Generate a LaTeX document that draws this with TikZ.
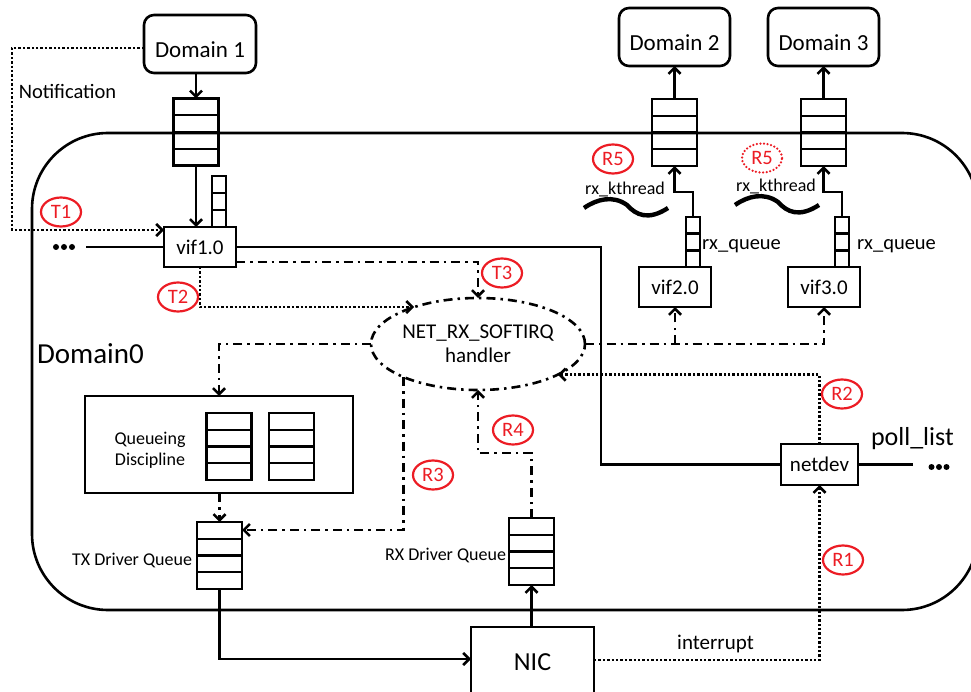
\documentclass[tikz,border=0pt]{standalone}
\usepackage{fontspec}
\setmainfont{Carlito}
\usetikzlibrary{arrows.meta,shapes.geometric,calc}
\definecolor{tagred}{RGB}{236,28,36}

\tikzset{
  f18/.style={font=\fontsize{18}{21}\selectfont},
  f20/.style={font=\fontsize{20.5}{24}\selectfont},
  f21/.style={font=\fontsize{21}{24}\selectfont},
  f23/.style={font=\fontsize{23}{27}\selectfont},
  f26/.style={font=\fontsize{26}{30}\selectfont},
  f29/.style={font=\fontsize{29}{34}\selectfont},
  stroke/.style={line width=2.6pt},
  boxs/.style={draw, rectangle, stroke, f21},
  dom/.style={boxs, rounded corners=10pt, minimum width=112pt, minimum height=58pt,
    f23, text height=27pt, text depth=0pt},
  vif/.style={boxs, minimum width=72pt, minimum height=40pt},
  % a queue: a box split into #1 equal cells
  cells/.style={path picture={
    \foreach \k in {1,...,#1}{
      \pgfmathsetmacro\f{\k/#1}
      \draw[line width=2.4pt] ($(path picture bounding box.north west)!\f!(path picture bounding box.south west)$)
         -- ($(path picture bounding box.north east)!\f!(path picture bounding box.south east)$);
    }}},
  queue/.style={draw, stroke, rectangle, minimum width=45pt, minimum height=67pt, cells=#1},
  queue/.default=4,
  smallq/.style={queue=3, minimum width=14pt, minimum height=50pt},
  redtag/.style={ellipse, draw=tagred, text=tagred, line width=2.2pt,
    minimum width=40pt, minimum height=29pt, f20},
  arrowed/.style={-{Straight Barb[length=6pt,width=12pt]}},
  dotline/.style={stroke, dash pattern=on 2.4pt off 2pt},
  dashdot/.style={stroke, dash pattern=on 9pt off 5pt on 2.5pt off 5pt},
  wave/.pic={\draw[line width=4.4pt] (0,0) .. controls (13,-9) and (29,-13) .. (43,-3)
     .. controls (52,7) and (64,13) .. (84,0);}
}

\begin{document}
\begin{tikzpicture}[x=1pt, y=-1pt, line width=2.6pt,
  every node/.style={inner sep=0pt, outer sep=0pt}]
\useasboundingbox (0,0) rectangle (971,692);
\clip (0,0) rectangle (971,692);

% Domain0 container
\node[draw, stroke, rounded corners=76pt, minimum width=946pt, minimum height=477pt] (dom0) at (505,371.5) {};
\node[f29, anchor=base west] (dom0label) at (37,363) {Domain0};

% guest domains
\node[dom] (dom1) at (200,44) {Domain 1};
\node[dom, minimum width=111pt] (dom2) at (674.5,37) {Domain 2};
\node[dom, minimum width=111pt] (dom3) at (823.5,37) {Domain 3};

% shared rings
\node[queue] (q1) at (196,132) {};
\node[queue] (q2) at (674.5,132.5) {};
\node[queue] (q3) at (823.5,132.5) {};
\node[smallq, minimum height=51pt] (qv1) at (219,201.5) {};
\node[smallq] (qv2) at (693,242) {};
\node[smallq] (qv3) at (842,242) {};

% virtual interfaces
\node[vif] (vif1) at (200,247) {vif1.0};
\node[vif] (vif2) at (675,287) {vif2.0};
\node[vif] (vif3) at (824,287) {vif3.0};
\node[boxs, minimum width=77pt, minimum height=41pt] (netdev) at (819.5,464.5) {netdev};

% softirq handler
\node[ellipse, draw, dashdot, minimum width=198pt, minimum height=92pt, align=center, f21]
  (sirq) at (478,344) {NET\_RX\_SOFTIRQ\\handler};

% queueing discipline
\node[boxs, minimum width=268pt, minimum height=97pt] (qd) at (219,444.5) {};
\node[f18, align=center] (qdtext) at (150,450.5) {Queueing\\Discipline};
\node[queue] (qa) at (229,446.5) {};
\node[queue] (qb) at (291.5,446.5) {};

% driver queues and NIC
\node[queue] (tx) at (219.5,555.5) {};
\node[queue] (rx) at (531.5,551.5) {};
\node[f18, anchor=base east] (txlabel) at (192,565) {TX Driver Queue};
\node[f18, anchor=base east] (rxlabel) at (506,560) {RX Driver Queue};
\node[boxs, f26, minimum width=123pt, minimum height=70pt] (nic) at (532.5,662) {NIC};

% text labels
\node[f20, anchor=base] (notif) at (67.5,99) {Notification};
\node[f18, anchor=base] (kt2) at (625,195) {rx\_kthread};
\node[f18, anchor=base] (kt3) at (776,192) {rx\_kthread};
\node[f20, anchor=base west] (rq2) at (702,250) {rx\_queue};
\node[f20, anchor=base west] (rq3) at (857,250) {rx\_queue};
\node[f26, anchor=base west] (poll) at (871,445) {poll\_list};
\node[f21, anchor=base] (intr) at (715.5,649) {interrupt};

% kernel threads
\pic (w2) at (584,208) {wave};
\pic (w3) at (735,205) {wave};

% step tags
\node[redtag] (t1) at (61,212) {T1};
\node[redtag] (t2) at (178,297) {T2};
\node[redtag] (t3) at (502,273) {T3};
\node[redtag] (r1) at (843,560) {R1};
\node[redtag] (r2) at (842,394) {R2};
\node[redtag] (r3) at (433,475) {R3};
\node[redtag] (r4) at (513,430) {R4};
\node[redtag] (r5a) at (613,159) {R5};
\node[redtag, line cap=round, dash pattern=on 0pt off 3.6pt, line width=2.5pt] (r5b) at (762,158) {R5};

% transmit path
\draw[stroke, arrowed] (q1.north |- dom1.south) -- (q1.north);
\draw[stroke, arrowed] (q1.south) -- (q1.south |- vif1.north);
\coordinate (ncorner) at (12,230);
\draw[dotline, arrowed] ([yshift=-4pt]dom1.west) -| (ncorner) |- ([yshift=17pt]vif1.west);
\coordinate (ldots) at (86,247);
\draw[stroke] (ldots) -- (vif1.west);
\foreach \dx in {56,64,72} \fill (\dx,247) circle[radius=3pt];
\draw[stroke] (vif1.east) -| ([xshift=-180pt]netdev.west) -- (netdev.west);
\coordinate (rdots) at (913,464.5);
\draw[stroke] (netdev.east) -- (rdots);
\foreach \dx in {931.5,939,946.5} \fill (\dx,467) circle[radius=3pt];

\draw[dotline, arrowed] (vif1.south) |- (sirq.150);
\draw[dashdot, arrowed] ([yshift=-15pt]vif1.east) -| (sirq.north);
\draw[dashdot, arrowed] (sirq.west) -| (qd.north);
\draw[dashdot, arrowed] (tx.north |- qd.south) -- (tx.north);
\draw[dashdot, arrowed] (sirq.204) |- ([yshift=25.5pt]tx.east);
\draw[stroke, arrowed] (tx.south) |- ([yshift=3pt]nic.west);

% receive path
\draw[stroke, arrowed] (rx.south |- nic.north) -- (rx.south);
\draw[dotline, arrowed] ([yshift=2pt]nic.east) -| (netdev.south);
\draw[dotline, arrowed] (netdev.north) |- (sirq.-21);
\draw[dashdot, arrowed] (rx.north) -- ++(0,-65) -| (sirq.south);
\draw[dashdot, arrowed] (sirq.east) -| (vif3.south);
\draw[dashdot, arrowed] (vif2.south |- sirq.east) -- (vif2.south);
\draw[stroke, arrowed] (qv2.north) -- ++(0,-25) -| (q2.south);
\draw[stroke, arrowed] (qv3.north) -- ++(0,-25) -| (q3.south);
\draw[stroke, arrowed] (q2.north) -- (dom2.south);
\draw[stroke, arrowed] (q3.north) -- (dom3.south);
\end{tikzpicture}
\end{document}
